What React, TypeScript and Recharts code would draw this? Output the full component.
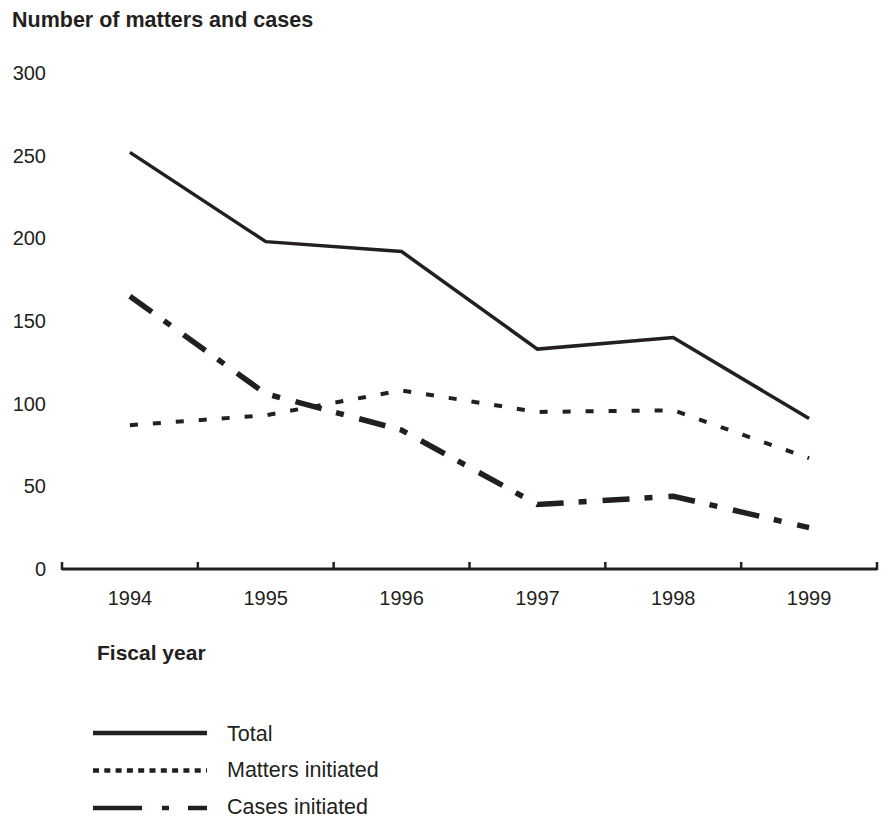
import React from "react";
import { Line, LineChart, XAxis, YAxis } from "recharts";

const years = ["1994", "1995", "1996", "1997", "1998", "1999"];
const total = [252, 198, 192, 133, 140, 91];
const mattersInitiated = [87, 93, 108, 95, 96, 67];
const casesInitiated = [165, 106, 84, 39, 44, 25];
const yTicks = [0, 50, 100, 150, 200, 250, 300];

const data = years.map((year, i) => ({
  year,
  total: total[i],
  matters: mattersInitiated[i],
  cases: casesInitiated[i],
}));

const INK = "#231f20";
const FONT = "'Liberation Sans', Arial, Helvetica, sans-serif";
const W = 885;
const H = 818;
const LEFT = 62;
const RIGHT = 8;
const BAND = (W - LEFT - RIGHT) / years.length;

const series = [
  { key: "total", name: "Total", width: 3.5, dash: undefined, legendDash: undefined },
  { key: "matters", name: "Matters initiated", width: 4, dash: "8 15", legendDash: "6 5.3" },
  { key: "cases", name: "Cases initiated", width: 5.5, dash: "27 15 8 16", legendDash: "49 20 7 19" },
];

function YearTick(props: any) {
  const { x, y, payload, index } = props;
  const left = x - BAND / 2;
  return (
    <g>
      <line x1={left} x2={left} y1={y - 7} y2={y + 1} stroke={INK} strokeWidth={2.5} />
      {index === years.length - 1 && (
        <line x1={x + BAND / 2} x2={x + BAND / 2} y1={y - 7} y2={y + 1} stroke={INK} strokeWidth={2.5} />
      )}
      <text x={x} y={y + 36} textAnchor="middle" fill={INK} fontSize={20} fontFamily={FONT}>
        {payload.value}
      </text>
    </g>
  );
}

export default function App() {
  return (
    <div style={{ position: "absolute", left: 0, top: 0, width: W, height: H, background: "#fff", fontFamily: FONT, color: INK }}>
      <div style={{ position: "absolute", left: 12, top: 8, fontSize: 21.5, fontWeight: "bold", whiteSpace: "nowrap" }}>
        Number of matters and cases
      </div>
      <LineChart width={W} height={H} data={data} margin={{ top: 73, right: RIGHT, left: 0, bottom: 209 }}>
        <XAxis
          dataKey="year"
          scale="band"
          height={40}
          axisLine={{ stroke: INK, strokeWidth: 3 }}
          tickLine={false}
          tickSize={0}
          tickMargin={0}
          tick={<YearTick />}
        />
        <YAxis
          width={LEFT}
          domain={[0, 300]}
          ticks={yTicks}
          axisLine={false}
          tickLine={false}
          tickSize={0}
          tickMargin={16}
          tick={{ fill: INK, fontSize: 20, fontFamily: FONT }}
        />
        {series.map((s) => (
          <Line
            key={s.key}
            dataKey={s.key}
            name={s.name}
            stroke={INK}
            strokeWidth={s.width}
            strokeDasharray={s.dash}
            strokeLinejoin="miter"
            dot={false}
            activeDot={false}
            isAnimationActive={false}
          />
        ))}
      </LineChart>
      <div style={{ position: "absolute", left: 97, top: 641, fontSize: 21, fontWeight: "bold", whiteSpace: "nowrap" }}>
        Fiscal year
      </div>
      <svg style={{ position: "absolute", left: 0, top: 715, overflow: "visible" }} width={420} height={103}>
        {series.map((s, i) => {
          const cy = 18 + i * 37.5;
          return (
            <g key={s.key}>
              <line x1={93} x2={207} y1={cy} y2={cy} stroke={INK} strokeWidth={4.5} strokeDasharray={s.legendDash} />
              <text x={227} y={cy + 7.5 - i * 0.7} fill={INK} fontSize={21.5} fontFamily={FONT}>
                {s.name}
              </text>
            </g>
          );
        })}
      </svg>
    </div>
  );
}
